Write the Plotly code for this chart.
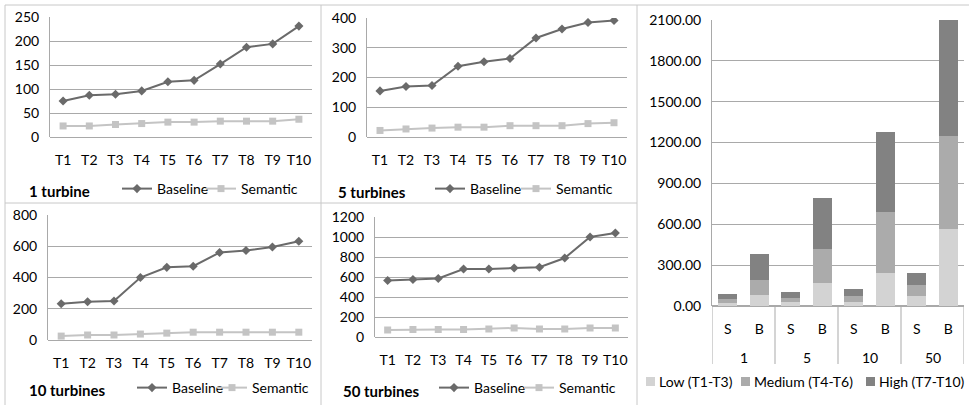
import plotly.graph_objects as go

W, H = 969, 405
FONT = "Lato"

tasks = ["T1", "T2", "T3", "T4", "T5", "T6", "T7", "T8", "T9", "T10"]

base_1 = [75, 87, 89, 96, 115, 118, 152, 187, 194, 231]
sem_1 = [23, 23, 26, 28, 31, 31, 33, 33, 33, 37]
base_5 = [155, 170, 173, 238, 253, 264, 333, 363, 385, 392]
sem_5 = [22, 27, 30, 33, 33, 38, 38, 38, 45, 48]
base_10 = [232, 245, 250, 400, 465, 472, 560, 573, 595, 632]
sem_10 = [25, 32, 32, 38, 44, 50, 50, 50, 50, 50]
base_50 = [565, 575, 585, 680, 680, 690, 697, 790, 1000, 1040]
sem_50 = [70, 75, 75, 75, 80, 90, 80, 80, 90, 90]

panel_titles = ["1 turbine", "5 turbines", "10 turbines", "50 turbines"]

# stacked bar chart
groups = ["1", "1", "5", "5", "10", "10", "50", "50"]
kinds = ["S", "B", "S", "B", "S", "B", "S", "B"]
low_vals = [24, 84, 26, 166, 30, 242, 73, 565]
med_vals = [30, 110, 35, 252, 44, 446, 82, 685]
high_vals = [34, 191, 42, 375, 50, 590, 85, 850]
bar_names = ["Low (T1-T3)", "Medium (T4-T6)", "High (T7-T10)"]

C_BASE = "#6a6a6a"
C_SEM = "#c4c4c4"
C_GRID = "#a9a9a9"
C_BORDER = "#c8c8c8"
BAR_COLORS = ["#d3d3d3", "#ababab", "#828282"]
FS = 14


def fx(px):
    return px / W


def fy(py):
    return 1 - py / H


fig = go.Figure()

# legend text start x for Baseline / Semantic, legend y
panels = [
    dict(base=base_1, sem=sem_1, x=(50, 312), y=(17, 137), ymax=250, dtick=50,
         title=(27, 191), leg=(158, 242, 189)),
    dict(base=base_5, sem=sem_5, x=(367, 627), y=(18, 137), ymax=400, dtick=100,
         title=(336, 192), leg=(471, 557, 189)),
    dict(base=base_10, sem=sem_10, x=(48, 312), y=(215, 340), ymax=800, dtick=200,
         title=(27, 390), leg=(173, 253, 388)),
    dict(base=base_50, sem=sem_50, x=(375, 628), y=(217, 337), ymax=1200, dtick=200,
         title=(341, 391), leg=(475, 560, 388)),
]

for i, p in enumerate(panels):
    n = i + 1
    xa = "x" if n == 1 else f"x{n}"
    ya = "y" if n == 1 else f"y{n}"
    leg_b = "legend" if n == 1 else f"legend{2 * n - 1}"
    leg_s = f"legend{2 * n}"
    fig.add_trace(go.Scatter(
        x=tasks, y=p["base"], name="Baseline", mode="lines+markers",
        line=dict(color=C_BASE, width=2), marker=dict(symbol="diamond", size=7, color=C_BASE),
        xaxis=xa, yaxis=ya, legend=leg_b))
    fig.add_trace(go.Scatter(
        x=tasks, y=p["sem"], name="Semantic", mode="lines+markers",
        line=dict(color=C_SEM, width=2), marker=dict(symbol="square", size=7, color=C_SEM),
        xaxis=xa, yaxis=ya, legend=leg_s))
    xk = "xaxis" if n == 1 else f"xaxis{n}"
    yk = "yaxis" if n == 1 else f"yaxis{n}"
    leg_common = dict(orientation="h", xanchor="left", yanchor="middle",
                      font=dict(size=FS, color="#000"), bgcolor="rgba(0,0,0,0)", itemwidth=30)
    fig.update_layout({
        xk: dict(domain=[fx(p["x"][0]), fx(p["x"][1])], anchor=ya, type="category",
                 range=[-0.5, 9.5], showgrid=False, showline=False, ticks="",
                 automargin=False, ticklabelstandoff=13,
                 tickfont=dict(size=FS, color="#000"), fixedrange=True),
        yk: dict(domain=[fy(p["y"][1]), fy(p["y"][0])], anchor=xa, range=[0, p["ymax"]],
                 dtick=p["dtick"], showgrid=True, gridcolor=C_GRID, gridwidth=1,
                 showline=True, linecolor=C_GRID, linewidth=1, zeroline=True,
                 zerolinecolor=C_GRID, zerolinewidth=1, ticks="", ticklabelstandoff=7,
                 automargin=False, tickfont=dict(size=FS, color="#000"), fixedrange=True),
        leg_b: dict(x=fx(p["leg"][0] - 41), y=fy(p["leg"][2]), **leg_common),
        leg_s: dict(x=fx(p["leg"][1] - 41), y=fy(p["leg"][2]), **leg_common),
    })
    fig.add_annotation(x=fx(p["title"][0]), y=fy(p["title"][1]), xref="paper", yref="paper",
                       text="<b>" + panel_titles[i] + "</b>", showarrow=False,
                       xanchor="left", yanchor="middle", font=dict(size=15, color="#000"))

# stacked bars (category positions along the axis)
bar_x = list(range(len(kinds)))
for name, vals, col in zip(bar_names, [low_vals, med_vals, high_vals], BAR_COLORS):
    fig.add_trace(go.Bar(x=bar_x, y=vals, name=name, marker=dict(color=col, line=dict(width=0)),
                         xaxis="x5", yaxis="y5", showlegend=False))

fig.update_layout(
    barmode="stack", bargap=0.4,
    xaxis5=dict(domain=[fx(712), fx(964)], anchor="y5", range=[-0.5, len(kinds) - 0.5],
                tickmode="array", tickvals=bar_x, ticktext=kinds, showgrid=False,
                zeroline=False, showline=False, ticks="", ticklabelstandoff=13,
                automargin=False, tickfont=dict(size=FS, color="#000"), fixedrange=True),
    yaxis5=dict(domain=[fy(306), fy(20)], anchor="x5", range=[0, 2100], dtick=300,
                tickformat=".2f", showgrid=True, gridcolor=C_GRID, showline=True,
                linecolor=C_GRID, zeroline=True, zerolinecolor=C_GRID, ticks="",
                ticklabelstandoff=7, automargin=False,
                tickfont=dict(size=FS, color="#000"), fixedrange=True),
)

# group labels and dividers under the category axis
group_names = []
for g in groups:
    if g not in group_names:
        group_names.append(g)
for g in group_names:
    idx = [k for k, gg in enumerate(groups) if gg == g]
    fig.add_annotation(x=sum(idx) / len(idx), y=fy(357), xref="x5", yref="paper", text=g,
                       showarrow=False, yanchor="middle", font=dict(size=FS, color="#000"))
    fig.add_shape(type="line", xref="x5", yref="paper", x0=idx[0] - 0.5, x1=idx[0] - 0.5,
                  y0=fy(306), y1=fy(364), line=dict(color=C_GRID, width=1))
fig.add_shape(type="line", xref="x5", yref="paper", x0=len(kinds) - 0.5, x1=len(kinds) - 0.5,
              y0=fy(306), y1=fy(364), line=dict(color=C_GRID, width=1))

# bar legend
leg_sq_x = [646, 741, 866]
for name, col, sx in zip(bar_names, BAR_COLORS, leg_sq_x):
    fig.add_shape(type="rect", xref="paper", yref="paper", x0=fx(sx), x1=fx(sx + 9),
                  y0=fy(386), y1=fy(377), line=dict(width=0), fillcolor=col)
    fig.add_annotation(x=fx(sx + 11), y=fy(381.5), xref="paper", yref="paper", text=name,
                       showarrow=False, xanchor="left", yanchor="middle",
                       font=dict(size=FS, color="#000"))

# panel borders
border_lines = [
    (5, 5, 969, 5),
    (5, 5, 5, 405),
    (5, 203, 637, 203),
    (321, 5, 321, 405),
    (637, 5, 637, 405),
]
for x0, y0, x1, y1 in border_lines:
    fig.add_shape(type="line", xref="paper", yref="paper", x0=fx(x0), y0=fy(y0), x1=fx(x1), y1=fy(y1),
                  line=dict(color=C_BORDER, width=1))

fig.update_layout(
    width=W, height=H, margin=dict(l=0, r=0, t=0, b=0, pad=0),
    paper_bgcolor="white", plot_bgcolor="white",
    font=dict(family=FONT, size=FS, color="#000"),
    showlegend=True,
)

fig.write_html("out.html", config={"displayModeBar": False},
               post_script="document.body.style.margin='0px';document.body.style.padding='0px';")
